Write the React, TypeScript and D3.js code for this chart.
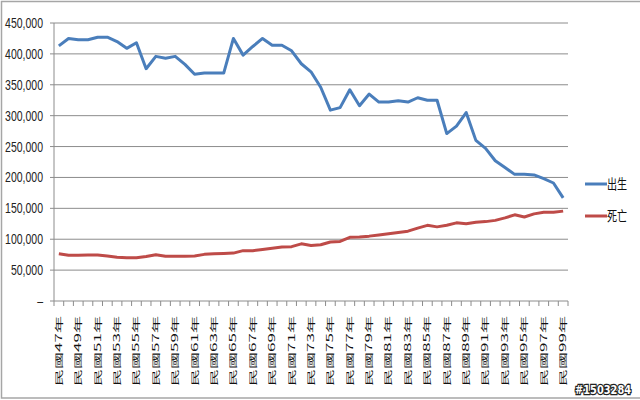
import * as React from "react";
import * as d3 from "d3";

const categories = [
  "民國47年", "民國48年", "民國49年", "民國50年", "民國51年", "民國52年", "民國53年",
  "民國54年", "民國55年", "民國56年", "民國57年", "民國58年", "民國59年", "民國60年",
  "民國61年", "民國62年", "民國63年", "民國64年", "民國65年", "民國66年", "民國67年",
  "民國68年", "民國69年", "民國70年", "民國71年", "民國72年", "民國73年", "民國74年",
  "民國75年", "民國76年", "民國77年", "民國78年", "民國79年", "民國80年", "民國81年",
  "民國82年", "民國83年", "民國84年", "民國85年", "民國86年", "民國87年", "民國88年",
  "民國89年", "民國90年", "民國91年", "民國92年", "民國93年", "民國94年", "民國95年",
  "民國96年", "民國97年", "民國98年", "民國99年",
];

const births = [
  413000, 425000, 423000, 423000, 427000, 427000, 420000, 409000, 418000, 376000,
  396000, 393000, 396000, 383000, 367000, 369000, 369000, 369000, 425000, 398000,
  412000, 425000, 414000, 414000, 405000, 384000, 371000, 346000, 309000, 313000,
  342000, 316000, 335000, 322000, 322000, 324000, 322000, 329000, 325000, 325000,
  271000, 283000, 305000, 260000, 247000, 227000, 216000, 205000, 205000, 204000,
  198000, 191000, 167000,
];

const deaths = [
  76500, 74000, 74000, 74500, 74500, 73000, 71000, 70000, 70000, 72000,
  75000, 72500, 72500, 72500, 73000, 75500, 76500, 77000, 77500, 81500,
  81500, 83500, 85500, 87500, 88000, 92500, 90000, 91000, 95500, 96500,
  103000, 103500, 105000, 107000, 109000, 111000, 113000, 118000, 122500, 120000,
  122500, 126500, 125000, 127500, 128500, 130500, 134500, 139500, 136000, 141000,
  143500, 143500, 145500,
];

const yTicks = [0, 50000, 100000, 150000, 200000, 250000, 300000, 350000, 400000, 450000];

const W = 640;
const H = 400;
const left = 54;
const right = 568;
const top = 23;
const bottom = 301;
const gridColor = "#8c8c8c";
const blue = "#4a7ebb";
const red = "#be4b48";
const cjk = "'Noto Sans CJK TC', 'Noto Sans CJK SC', sans-serif";

export default function App() {
  const x = d3.scaleBand().domain(categories).range([left, right]);
  const y = d3.scaleLinear().domain([0, 450000]).range([bottom, top]);
  const cx = (c: string) => (x(c) ?? 0) + x.bandwidth() / 2;

  const line = d3
    .line<number>()
    .x((_, i) => cx(categories[i]))
    .y((d) => y(d));

  const fmt = d3.format(",");

  return (
    <>
      <style>{"body{margin:0}"}</style>
      <svg width={W} height={H} style={{ display: "block" }}>
        <rect x={0} y={0} width={W} height={H} fill="#fff" />
        <rect x={1.5} y={1.5} width={W + 5} height={396.5} fill="none" stroke="#a6a6a6" strokeWidth={1.5} />

        {/* gridlines and y labels */}
        {yTicks.map((t) => (
          <g key={t}>
            <line x1={left - 4} x2={right} y1={y(t)} y2={y(t)} stroke={gridColor} strokeWidth={1} />
            <text
              transform={`translate(${left - 11}, ${y(t) + 5}) scale(0.75, 1)`}
              textAnchor="end"
              fontFamily="'Liberation Sans', Arial, sans-serif"
              fontSize={14}
              fill="#222"
            >
              {t === 0 ? "–" : fmt(t)}
            </text>
          </g>
        ))}
        <line x1={left} x2={left} y1={top} y2={bottom} stroke={gridColor} strokeWidth={1} />

        {/* x ticks */}
        {[...categories.map((c) => x(c) ?? 0), right].map((px, i) => (
          <line key={i} x1={px} x2={px} y1={bottom} y2={bottom + 5} stroke={gridColor} strokeWidth={1} />
        ))}
        {categories.map((c, i) =>
          i % 2 === 0 ? (
            <text
              key={c}
              transform={`translate(${cx(c)}, 316) rotate(-90) scale(1, 0.55)`}
              textAnchor="end"
              dy="0.35em"
              fontFamily={cjk}
              fontSize={15}
              fill="#111"
              textLength={70}
              lengthAdjust="spacingAndGlyphs"
            >
              {c}
            </text>
          ) : null
        )}

        {/* series */}
        <path d={line(deaths) ?? ""} fill="none" stroke={red} strokeWidth={3} strokeLinejoin="round" />
        <path d={line(births) ?? ""} fill="none" stroke={blue} strokeWidth={3} strokeLinejoin="round" />

        {/* legend */}
        <line x1={585} x2={607} y1={184} y2={184} stroke={blue} strokeWidth={3} />
        <text
          transform="translate(607, 189) scale(0.72, 1)"
          fontFamily={cjk}
          fontSize={14}
          fill="#111"
        >
          出生
        </text>
        <line x1={585} x2={607} y1={216} y2={216} stroke={red} strokeWidth={3} />
        <text
          transform="translate(607, 221) scale(0.72, 1)"
          fontFamily={cjk}
          fontSize={14}
          fill="#111"
        >
          死亡
        </text>

        {/* watermark */}
        <text
          transform="translate(575, 394) scale(0.82, 1)"
          fontFamily="'DejaVu Sans', sans-serif"
          fontWeight="bold"
          fontSize={12}
          fill="#fff"
          stroke="#222"
          strokeWidth={2.5}
          paintOrder="stroke"
        >
          #1503284
        </text>
      </svg>
    </>
  );
}
